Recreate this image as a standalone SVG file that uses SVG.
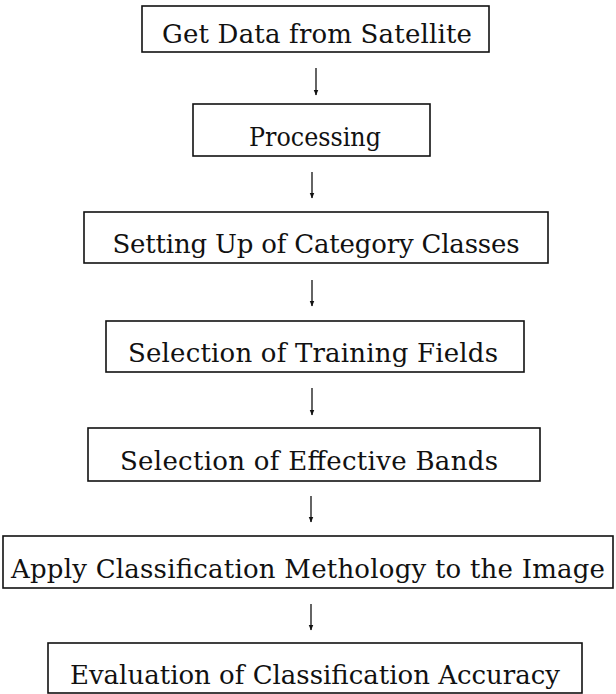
<svg xmlns="http://www.w3.org/2000/svg" width="616" height="694" viewBox="0 0 616 694">
<style>
.box{fill:#fff;stroke:#111;stroke-width:1.6}
.lbl{font-family:"DejaVu Serif","Liberation Serif",serif;font-size:26px;fill:#111;text-anchor:middle}
.arr{stroke:#111;stroke-width:1.3;fill:none}
</style>
<defs>
<marker id="ah" viewBox="0 0 10 10" refX="9" refY="5" markerWidth="6" markerHeight="6" orient="auto" markerUnits="userSpaceOnUse">
<path d="M0,1 L10,5 L0,9 Z" fill="#111"/>
</marker>
</defs>
<rect width="616" height="694" fill="#fff"/>
<g id="connectors">
<line class="arr" x1="316" y1="68" x2="316" y2="95" marker-end="url(#ah)"/>
<line class="arr" x1="312" y1="172" x2="312" y2="198" marker-end="url(#ah)"/>
<line class="arr" x1="312" y1="280" x2="312" y2="306" marker-end="url(#ah)"/>
<line class="arr" x1="312" y1="388" x2="312" y2="415" marker-end="url(#ah)"/>
<line class="arr" x1="311" y1="496" x2="311" y2="522" marker-end="url(#ah)"/>
<line class="arr" x1="311" y1="604" x2="311" y2="630" marker-end="url(#ah)"/>
</g>
<g id="n1"><rect class="box" x="142" y="6" width="347" height="46"/><text class="lbl" x="317" y="43" textLength="310">Get Data from Satellite</text></g>
<g id="n2"><rect class="box" x="193" y="104" width="237" height="52"/><text class="lbl" x="315" y="146" textLength="132" lengthAdjust="spacingAndGlyphs">Processing</text></g>
<g id="n3"><rect class="box" x="84" y="212" width="464" height="51"/><text class="lbl" x="316" y="253" textLength="407">Setting Up of Category Classes</text></g>
<g id="n4"><rect class="box" x="106" y="321" width="418" height="51"/><text class="lbl" x="313" y="362" textLength="370">Selection of Training Fields</text></g>
<g id="n5"><rect class="box" x="88" y="428" width="452" height="53"/><text class="lbl" x="309" y="470" textLength="378">Selection of Effective Bands</text></g>
<g id="n6"><rect class="box" x="3" y="536" width="610" height="52"/><text class="lbl" x="308" y="578" textLength="594">Apply Classification Methology to the Image</text></g>
<g id="n7"><rect class="box" x="48" y="643" width="534" height="50"/><text class="lbl" x="315" y="684">Evaluation of Classification Accuracy</text></g>
</svg>
